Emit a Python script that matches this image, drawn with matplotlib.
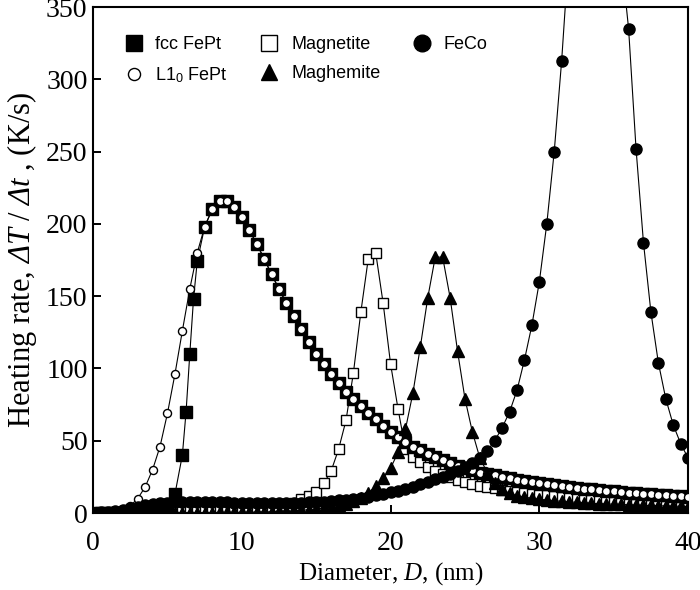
import numpy as np
import matplotlib
matplotlib.use('Agg')
import matplotlib.pyplot as plt

plt.rcParams['font.family'] = ['Liberation Serif', 'DejaVu Serif']
plt.rcParams['mathtext.fontset'] = 'custom'
plt.rcParams['mathtext.rm'] = 'Liberation Serif:italic'
plt.rcParams['mathtext.it'] = 'Liberation Serif:italic'
plt.rcParams['mathtext.sf'] = 'Liberation Sans'

# diameter grid (nm), 0.5 nm steps
D = np.arange(0, 40.5, 0.5)

# L1_0 FePt
l10 = [0, 0.1, 0.3, 0.8, 2, 5, 10, 18, 30, 46,
       69, 96, 126, 155, 180, 198, 210, 216, 216, 212,
       205, 196, 186, 176, 165, 155, 145, 136, 127, 118,
       110, 103, 96, 90, 84, 79, 74, 69, 65, 60,
       56, 52.5, 49, 46, 43.5, 41, 38.5, 36.5, 34.5, 32.5,
       31, 29.5, 28, 27, 26, 25, 24, 23, 22, 21.2,
       20.5, 19.8, 19.1, 18.5, 17.9, 17.3, 16.8, 16.3, 15.8, 15.3,
       14.9, 14.5, 14.1, 13.7, 13.3, 12.9, 12.6, 12.2, 11.9, 11.6,
       11.3]

# fcc FePt (extra points on the steep rise)
fcc_d = [0, 0.5, 1, 1.5, 2, 2.5, 3, 3.5, 4, 4.5, 5,
         5.5, 6, 6.25, 6.5, 6.75, 7] + list(D[15:])
fcc = [0, 0, 0, 0, 0, 0, 0, 0.1, 0.3, 1, 4,
       13, 40, 70, 110, 148, 174] + l10[15:]

magnetite = [0, 0, 0, 0, 0.1, 0.1, 0.2, 0.3, 0.4, 0.6,
             0.8, 1.1, 1.4, 1.6, 1.7, 1.8, 1.9, 1.9, 1.9, 2,
             2, 2.1, 2.3, 2.6, 3.1, 3.8, 5, 7, 9.5, 11.5,
             14.7, 20.5, 29, 44, 64, 97, 139, 176, 180, 145,
             103, 72, 44, 39, 35, 32, 29, 27, 25, 23,
             21.5, 20, 19, 18, 17, 16.2, 15.4, 14.7, 14, 13.4,
             12.8, 12.3, 11.8, 11.3, 10.9, 10.5, 10.1, 9.8, 9.5, 9.2,
             8.9, 8.6, 8.4, 8.2, 8, 7.8, 7.6, 7.4, 7.2, 7,
             6.9]

maghemite = [0, 0, 0, 0, 0, 0, 0, 0, 0.1, 0.1,
             0.1, 0.2, 0.2, 0.2, 0.3, 0.3, 0.3, 0.4, 0.4, 0.5,
             0.5, 0.6, 0.7, 0.8, 0.9, 1.1, 1.3, 1.6, 1.9, 2.3,
             2.8, 3.4, 4.2, 5.2, 6.5, 8.2, 10.5, 14, 18.5, 24,
             31, 42, 58, 83, 115, 149, 177, 177, 149, 112,
             79, 56, 38, 28, 21, 16.5, 13.5, 12, 11, 10.2,
             9.5, 9, 8.5, 8.1, 7.7, 7.4, 7.1, 6.8, 6.5, 6.3,
             6.1, 5.9, 5.7, 5.5, 5.3, 5.2, 5, 4.9, 4.8, 4.6,
             4.5]

feco = [0.3, 0.5, 1, 1.6, 2.4, 3.3, 4.3, 5.2, 6, 6.7,
        7.2, 7.5, 7.7, 7.7, 7.7, 7.6, 7.5, 7.4, 7.3, 7.2,
        7.1, 7, 7, 6.9, 6.9, 6.9, 6.9, 7, 7.1, 7.3,
        7.5, 7.8, 8.2, 8.7, 9.2, 9.8, 10.5, 11.3, 12.2, 13.2,
        14.3, 15.5, 16.8, 18.2, 19.8, 21.5, 23.3, 25.2, 27.2, 29.4,
        31.8, 34.5, 38, 43, 50, 59, 70, 85, 106, 130,
        160, 200, 250, 313, 390, 470, 540, 580, 575, 520,
        450, 385, 335, 252, 187, 139, 104, 79, 61, 48,
        38]

fig = plt.figure(figsize=(7, 5.9), dpi=100)
ax = fig.add_axes([0.133, 0.1305, 0.85, 0.8575])

lw = 0.8
ax.plot(D, magnetite, '-s', color='k', lw=lw, ms=7.5, mfc='white', mec='k',
        mew=1.0, label='Magnetite', zorder=2)
ax.plot(fcc_d, fcc, '-s', color='k', lw=lw, ms=8, mfc='k', mec='k',
        label='fcc FePt', zorder=3)
ax.plot(D, l10, '-o', color='k', lw=lw, ms=5.8, mfc='white', mec='k',
        mew=1.0, label=r'L1$_\mathsf{0}$ FePt', zorder=4)
ax.plot(D, maghemite, '-^', color='k', lw=lw, ms=8, mfc='k', mec='k',
        label='Maghemite', zorder=5)
ax.plot(D, feco, '-o', color='k', lw=lw, ms=8, mfc='k', mec='k',
        label='FeCo', zorder=6)

ax.set_xlim(0, 40)
ax.set_ylim(0, 350)
ax.set_xticks([0, 10, 20, 30, 40])
ax.set_yticks(np.arange(0, 351, 50))
ax.tick_params(direction='in', length=6, width=1.4, labelsize=20)
ax.tick_params(axis='x', pad=13)
ax.tick_params(axis='y', pad=4)
for s in ax.spines.values():
    s.set_linewidth(1.5)

ax.set_xlabel('Diameter, $D$, (nm)', fontsize=18, labelpad=3)
ax.set_ylabel(r'Heating rate, $\Delta T$ / $\Delta t$ , (K/s)', fontsize=22,
              labelpad=5)

h, l = ax.get_legend_handles_labels()
order = [1, 2, 0, 3, 4]
ax.legend([h[i] for i in order], [l[i] for i in order], ncol=3,
          loc='upper left', bbox_to_anchor=(0.05, 0.942), frameon=False,
          borderaxespad=0, borderpad=0, handlelength=1.2, handletextpad=0.6,
          columnspacing=1.7, labelspacing=0.65, markerscale=1.5,
          prop={'family': 'Liberation Sans', 'size': 13})
for line in ax.get_legend().get_lines():
    line.set_linestyle('none')

fig.savefig('out.png', dpi=100)
